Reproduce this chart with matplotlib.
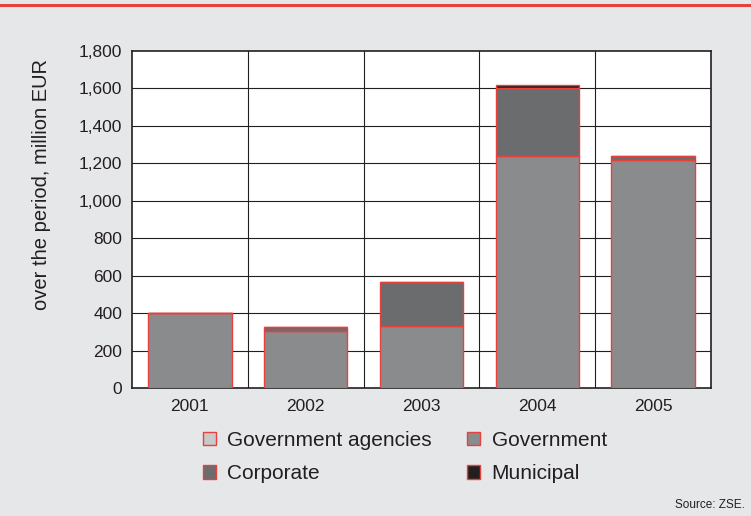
import matplotlib.pyplot as plt
from matplotlib.lines import Line2D
from matplotlib.patches import Patch

plt.rcParams["font.family"] = ["Liberation Sans", "DejaVu Sans"]

# Bond turnover by issuer, million EUR
years = ["2001", "2002", "2003", "2004", "2005"]
gov_agencies = [0, 0, 0, 0, 0]
government = [398, 303, 332, 1241, 1220]
corporate = [0, 22, 234, 359, 21]
municipal = [0, 0, 0, 20, 0]

series = [
    ("Government agencies", gov_agencies, "#c8c9cb"),
    ("Government", government, "#8a8b8d"),
    ("Corporate", corporate, "#6b6c6e"),
    ("Municipal", municipal, "#231f20"),
]

bg = "#e6e7e9"
red = "#e8413c"

fig = plt.figure(figsize=(7.51, 5.16), dpi=100, facecolor=bg)
ax = fig.add_axes([132 / 751, 1 - 388 / 516, 579 / 751, 337 / 516])
ax.set_facecolor("white")

# red rule along the top edge
fig.add_artist(Line2D([0, 1], [1 - 5 / 516, 1 - 5 / 516], color=red, lw=2.2,
                      transform=fig.transFigure))

x = list(range(len(years)))
bottom = [0] * len(years)
for name, vals, col in series:
    ax.bar(x, vals, width=0.72, bottom=bottom, color=col, edgecolor=red,
           linewidth=1.0, zorder=3)
    bottom = [b + v for b, v in zip(bottom, vals)]

ax.set_xlim(-0.5, len(years) - 0.5)
ax.set_ylim(0, 1800)
ax.set_yticks(range(0, 1801, 200))
ax.set_yticklabels([f"{v:,}" for v in range(0, 1801, 200)], fontsize=12.5)
ax.set_xticks(x)
ax.set_xticklabels(years, fontsize=12.5)
ax.tick_params(length=0, pad=7, colors="#231f20")
ax.tick_params(axis="x", pad=8)

# grid: horizontal at ticks, vertical between categories
for v in range(200, 1800, 200):
    ax.axhline(v, color="#231f20", lw=0.8, zorder=1)
for b in range(1, len(years)):
    ax.axvline(b - 0.5, color="#231f20", lw=0.8, zorder=1)
for s in ax.spines.values():
    s.set_color("#231f20")
    s.set_linewidth(1.2)

fig.text(42 / 751, 1 - 185 / 516, "over the period, million EUR", rotation=90,
         ha="center", va="center", fontsize=14.5, color="#231f20")

handles = [Patch(facecolor=col, edgecolor=red, linewidth=1.0)
           for _, _, col in series]
labels = [name for name, _, _ in series]
order = [0, 2, 1, 3]
fig.legend([handles[i] for i in order], [labels[i] for i in order],
           ncol=2, loc="center", bbox_to_anchor=(0.539, 1 - 457 / 516),
           frameon=False, fontsize=15, handlelength=0.62, handleheight=0.62,
           handletextpad=0.55, columnspacing=1.7, labelspacing=0.68,
           labelcolor="#231f20")

fig.text(745 / 751, 1 - 505 / 516, "Source: ZSE.", ha="right", va="center",
         fontsize=8.5, color="#231f20")

fig.savefig("out.png", dpi=100, facecolor=bg)
